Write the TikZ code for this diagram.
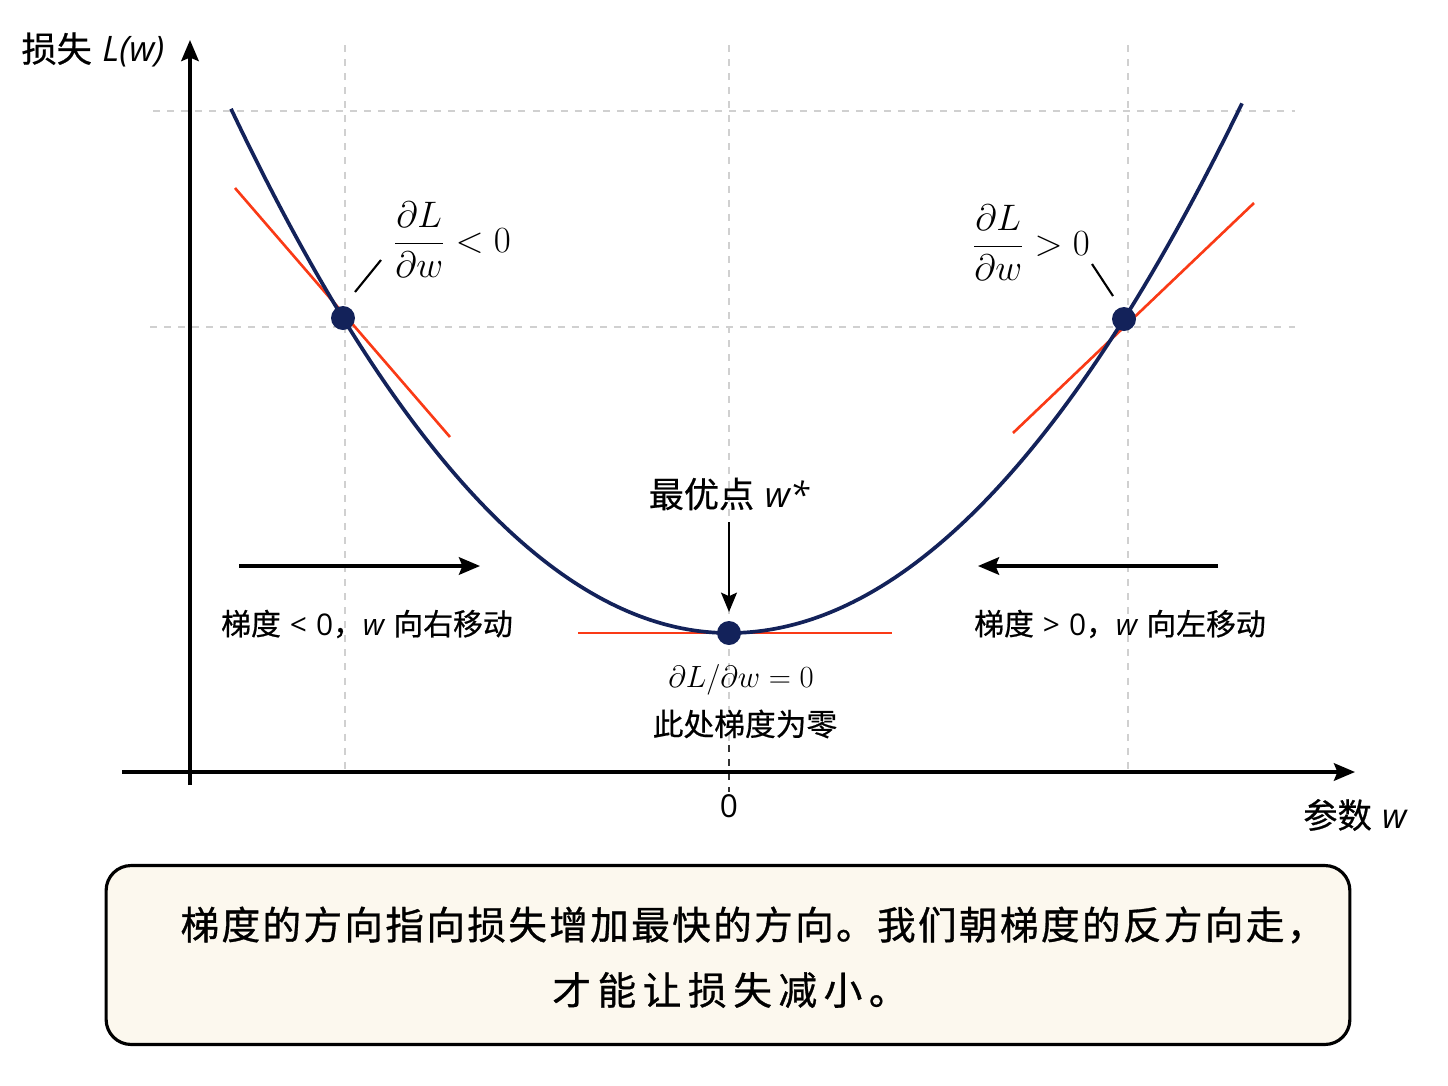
\documentclass[tikz,border=0pt]{standalone}
\usepackage{fix-cm}
\usepackage{amsmath}
\usepackage{fontspec}
\newfontfamily\cjk[FakeBold=0.6]{Noto Sans CJK SC}
\newfontfamily\cjkbox[LetterSpace=6,FakeBold=0.8]{Noto Sans CJK SC}
\newfontfamily\cjkboxw[LetterSpace=17,FakeBold=0.8]{Noto Sans CJK SC}
\newfontfamily\lat{Open Sans}
\usetikzlibrary{arrows.meta}
\definecolor{navy}{HTML}{13225A}
\definecolor{tanred}{HTML}{FA3A16}
\definecolor{cream}{HTML}{FCF8EE}
\definecolor{gridgray}{HTML}{D0D0D0}
\begin{document}
\begin{tikzpicture}[x=0.02cm,y=-0.02cm,
  gridline/.style={draw=gridgray, line width=0.7pt, dash pattern=on 4pt off 4pt},
  curveline/.style={draw=navy, line width=2.1pt},
  tangent/.style={draw=tanred, line width=1.5pt},
  axisline/.style={draw=black, line width=1.8pt, -{Stealth[length=12pt,width=10pt,inset=2pt]}},
  movearrow/.style={draw=black, line width=1.8pt, -{Stealth[length=12pt,width=10pt,inset=2pt]}},
  dot/.style={circle, fill=navy, inner sep=0pt, minimum size=0.48cm},
  leader/.style={draw=black, line width=1.2pt},
  txt/.style={inner sep=0pt, font=\fontsize{17}{20}\selectfont},
]
\useasboundingbox (0,0) rectangle (1448,1086);

% grid
\draw[gridline] (345,45) -- (345,772);
\draw[gridline] (729,45) -- (729,745);
\draw[gridline] (1128,45) -- (1128,772);
\draw[gridline] (153,111) -- (1295,111);
\draw[gridline] (150,327) -- (1295,327);
\draw[draw=black!80, line width=0.8pt, dash pattern=on 4pt off 4pt] (729,745) -- (729,792);

% axes
\coordinate (ybot) at (190,785);
\coordinate (ytop) at (190,40);
\coordinate (xl) at (122,772);
\coordinate (xr) at (1355,772);
\draw[axisline] (ybot) -- (ytop);
\draw[axisline] (xl) -- (xr);

% tangents
\coordinate (t1a) at (235,188); \coordinate (t1b) at (450,437);
\coordinate (t2a) at (1013,433); \coordinate (t2b) at (1254,203);
\coordinate (t3a) at (578,633); \coordinate (t3b) at (892,633);
\draw[tangent] (t1a) -- (t1b);
\draw[tangent] (t2a) -- (t2b);
\draw[tangent] (t3a) -- (t3b);

% curve
\draw[curveline] plot[domain=231:729, samples=90, smooth] (\x, {633-(0.04598*(\x-729))^2})
  -- plot[domain=729:1242, samples=90, smooth] (\x, {633-(0.04486*(\x-729))^2});

% points
\node[dot] (p1) at (343,318) {};
\node[dot] (p2) at (1124,319) {};
\node[dot] (pmin) at (729,633) {};

% labels
\node[txt, font=\fontsize{20}{23}\selectfont] (ylab) at (93,50) {{\cjk 损失} {\lat\itshape L(w)}};
\node[txt, font=\fontsize{19.5}{22}\selectfont] (xlab) at (1355,815) {{\cjk 参数} {\lat\itshape w}};
\node[txt, font=\fontsize{18}{21}\selectfont] (zero) at (729,806) {\lat 0};

\node[txt, font=\fontsize{21}{25}\selectfont] (fl) at (452,240) {$\dfrac{\partial L}{\partial w} < 0$};
\node[txt, font=\fontsize{21}{25}\selectfont] (fr) at (1031,243) {$\dfrac{\partial L}{\partial w} > 0$};
\coordinate (l1a) at (355,292); \coordinate (l1b) at (381,260);
\coordinate (l2a) at (1113,296); \coordinate (l2b) at (1092,264);
\draw[leader] (l1a) -- (l1b);
\draw[leader] (l2a) -- (l2b);

\node[txt, font=\fontsize{20}{24}\selectfont] (opt) at (729,494) {{\cjk 最优点} {\lat\itshape w*}};
\coordinate (optsrc) at (729,522);
\coordinate (opttip) at (729,612);
\draw[movearrow, line width=1.4pt, -{Stealth[length=11pt,width=9pt,inset=2pt]}] (optsrc) -- (opttip);

\coordinate (la) at (239,566); \coordinate (lb) at (480,566);
\coordinate (ra) at (1218,566); \coordinate (rb) at (978,566);
\draw[movearrow] (la) -- (lb);
\draw[movearrow] (ra) -- (rb);
\node[txt] (ltxt) at (367,624) {{\cjk 梯度} {\lat <} {\lat 0}{\cjk ，}{\lat\itshape w} {\cjk 向右移动}};
\node[txt] (rtxt) at (1120,624) {{\cjk 梯度} {\lat >} {\lat 0}{\cjk ，}{\lat\itshape w} {\cjk 向左移动}};

\node[txt, font=\fontsize{17.5}{20}\selectfont] (zg) at (741,680) {$\partial L/\partial w = 0$};
\node[txt, font=\fontsize{17.5}{20}\selectfont] (zt) at (745,724) {\cjk 此处梯度为零};

% box
\node[draw=black, line width=1.8pt, fill=cream, rounded corners=0.5cm,
      minimum width=24.88cm, minimum height=3.58cm] (box) at (728,955) {};
\node[inner sep=0pt, font=\fontsize{22}{26}\selectfont\cjkbox] (boxl1) at (753,925)
  {梯度的方向指向损失增加最快的方向。我们朝梯度的反方向走，};
\node[inner sep=0pt, font=\fontsize{22}{26}\selectfont\cjkboxw] (boxl2) at (730,990)
  {才能让损失减小。};
\end{tikzpicture}
\end{document}
